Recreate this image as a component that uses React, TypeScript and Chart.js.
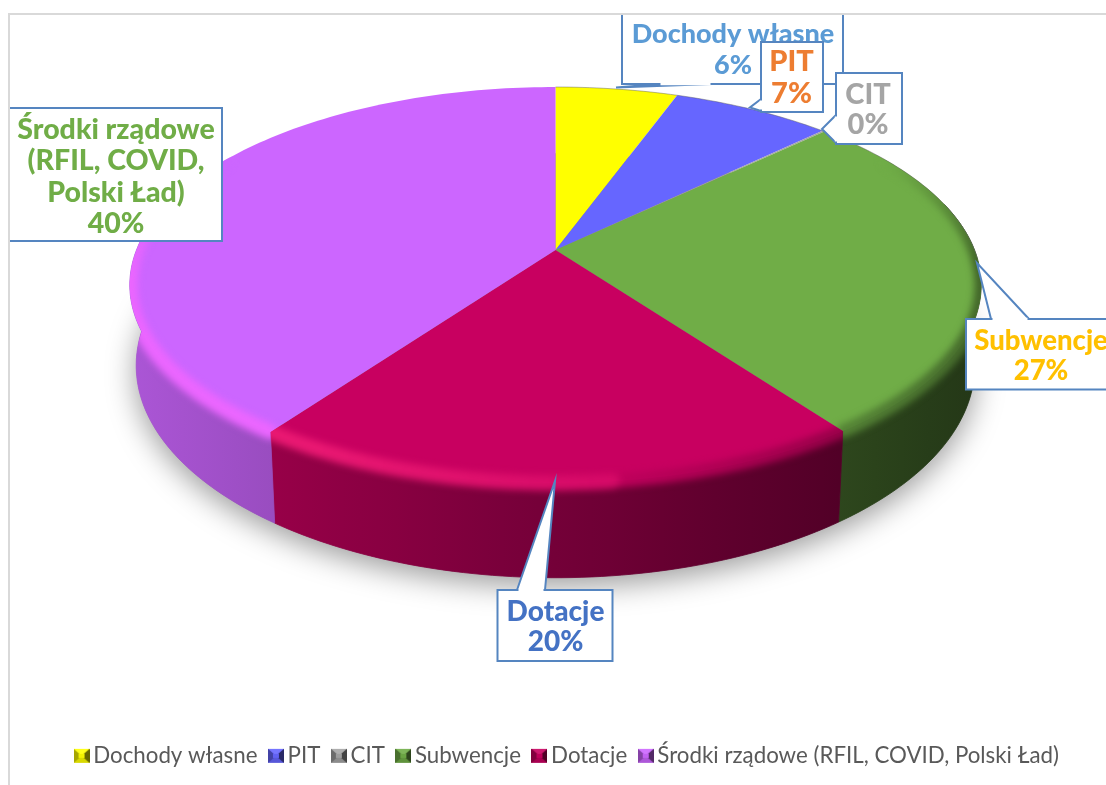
import React, { useEffect, useRef } from "react";
import { Chart, registerables } from "chart.js";

Chart.register(...registerables);

const categories = ["Dochody własne", "PIT", "CIT", "Subwencje", "Dotacje", "Środki rządowe (RFIL, COVID, Polski Ład)"];
const shares = [5.5, 7.2, 0.1, 27.2, 19.9, 40.1];
const sliceColors = ["#ffff00", "#6666ff", "#a5a5a5", "#70ad47", "#c80060", "#cc66ff"];
const labelLines = [["Dochody własne"], ["PIT"], ["CIT"], ["Subwencje"], ["Dotacje"], ["Środki rządowe", "(RFIL, COVID,", "Polski Ład)"]];
const labelColors = ["#5b9bd5", "#ed7d31", "#a5a5a5", "#ffc000", "#4472c4", "#70ad47"];

const FONT = "Lato, 'Open Sans', sans-serif";
const BORDER = "#5585c0";

// Perspective of the disc: the unit circle is projected to the screen.
const CX = 555.5, CY = 250, RX = 419, RY = 191.8, K = -0.1768, BASE_SCALE = 0.985, DEPTH = 78;

type Pt = [number, number];
const top = (t: number, r = 1): Pt => {
  const ux = r * Math.cos(t), uy = r * Math.sin(t), w = 1 + K * uy;
  return [CX + (RX * ux) / w, CY + (RY * uy) / w];
};
const base = (t: number): Pt => {
  const p = top(t), w = 1 + K * Math.sin(t);
  return [CX + (p[0] - CX) * BASE_SCALE, p[1] + DEPTH / w];
};
const hexRgb = (h: string) => [1, 3, 5].map((i) => parseInt(h.slice(i, i + 2), 16));
const mix = (c: number[], o: number[], f: number) =>
  `rgb(${c.map((v, i) => Math.round(v + (o[i] - v) * f)).join(",")})`;

type Callout = { i: number; size: number; box: [number, number, number, number]; tip?: Pt; from?: Pt; to?: Pt; cx: number; ys: number[] };
const callouts: Callout[] = [
  { i: 5, size: 28.5, box: [9, 108, 222, 241], cx: 116, ys: [130, 161, 193, 224] },
  { i: 3, size: 27.5, box: [966, 319, 1120, 389.5], tip: [977, 263], from: [991, 319], to: [1029, 319], cx: 1041, ys: [341, 371] },
  { i: 4, size: 28, box: [497.5, 590, 612.5, 661], tip: [555, 481], from: [517, 590], to: [545, 590], cx: 555.5, ys: [612, 642] },
  { i: 0, size: 27, box: [622, 10, 843, 84], tip: [616, 87.5], from: [659, 84], to: [712, 84], cx: 733, ys: [34, 65] },
  { i: 1, size: 29, box: [761, 42, 823, 112], tip: [750, 107.5], from: [761, 111], to: [761, 99], cx: 791.5, ys: [62, 94] },
  { i: 2, size: 29, box: [836, 73, 902, 144], tip: [822, 129], from: [836, 143], to: [836, 115], cx: 868, ys: [95, 125] },
];

function legendSwatch(color: string) {
  const s = document.createElement("canvas");
  s.width = 16; s.height = 16;
  const c = s.getContext("2d")!;
  const rgb = hexRgb(color);
  const n = 16;
  const tri = (pts: number[], fill: string) => {
    c.fillStyle = fill;
    c.beginPath();
    c.moveTo(pts[0], pts[1]); c.lineTo(pts[2], pts[3]); c.lineTo(pts[4], pts[5]);
    c.closePath(); c.fill();
  };
  c.fillStyle = mix(rgb, [0, 0, 0], 0.2);
  c.fillRect(0, 1, n, 14);
  tri([0, 1, n, 1, 8, 8], mix(rgb, [255, 255, 255], 0.1));
  tri([0, 15, n, 15, 8, 8], mix(rgb, [0, 0, 0], 0.15));
  tri([0, 1, 0, 15, 8, 8], mix(rgb, [0, 0, 0], 0.35));
  tri([n, 1, n, 15, 8, 8], mix(rgb, [0, 0, 0], 0.6));
  c.fillStyle = mix(rgb, [0, 0, 0], 0.05);
  c.fillRect(5, 6, 6, 4);
  return s;
}

const wallFactor = (x: number) => 0.58 - 0.26 * ((x - CX) / 426);

const disc3d = {
  id: "disc3d",
  beforeDatasetDraw(chart: any) {
    const ctx: CanvasRenderingContext2D = chart.ctx;
    const arcs = chart.getDatasetMeta(0).data as any[];
    const stepsOf = (arc: any, d: number) => Math.max(2, Math.ceil((arc.endAngle - arc.startAngle) / d));
    const wallAngles = (arc: any) => {
      const n = stepsOf(arc, 0.02);
      const list: number[] = [];
      for (let j = 0; j <= n; j++) {
        const a = arc.startAngle + ((arc.endAngle - arc.startAngle) * j) / n;
        if (Math.sin(a) >= -0.25) list.push(a);
      }
      return list;
    };
    const addWall = (angles: number[]) => {
      angles.forEach((a, j) => {
        const p = top(a);
        j ? ctx.lineTo(p[0], p[1]) : ctx.moveTo(p[0], p[1]);
      });
      [...angles].reverse().forEach((a) => {
        const p = base(a);
        ctx.lineTo(p[0], p[1]);
      });
      ctx.closePath();
    };
    const addFace = (arc: any) => {
      const n = stepsOf(arc, 0.02);
      ctx.moveTo(CX, CY);
      for (let j = 0; j <= n; j++) {
        const p = top(arc.startAngle + ((arc.endAngle - arc.startAngle) * j) / n);
        ctx.lineTo(p[0], p[1]);
      }
      ctx.closePath();
    };

    ctx.save();
    // soft shadow under the disc
    ctx.save();
    ctx.shadowColor = "rgba(0,0,0,0.4)";
    ctx.shadowBlur = 30;
    ctx.shadowOffsetY = 8;
    ctx.fillStyle = "#888";
    ctx.beginPath();
    for (let j = 0; j <= 240; j++) {
      const p = base((j / 240) * Math.PI * 2);
      j ? ctx.lineTo(p[0], p[1]) : ctx.moveTo(p[0], p[1]);
    }
    ctx.closePath();
    ctx.fill();
    ctx.restore();

    // side wall
    arcs.forEach((arc, i) => {
      const rgb = hexRgb(sliceColors[i]);
      const angles = wallAngles(arc);
      if (angles.length < 2) return;
      const grad = ctx.createLinearGradient(CX - 426, 0, CX + 426, 0);
      for (let s = 0; s <= 16; s++) {
        const x = CX - 426 + (852 * s) / 16;
        grad.addColorStop(s / 16, mix(rgb, [0, 0, 0], 1 - wallFactor(x)));
      }
      ctx.fillStyle = grad;
      ctx.strokeStyle = grad;
      ctx.lineWidth = 0.8;
      ctx.beginPath();
      addWall(angles);
      ctx.fill();
      ctx.stroke();
    });

    // top face
    arcs.forEach((arc, i) => {
      ctx.fillStyle = sliceColors[i];
      ctx.beginPath();
      addFace(arc);
      ctx.fill();
    });

    // bevel along the rim: sharp strokes offscreen, blurred when copied
    const off = document.createElement("canvas");
    off.width = chart.width; off.height = chart.height;
    const o = off.getContext("2d")!;
    arcs.forEach((arc, i) => {
      const rgb = hexRgb(sliceColors[i]);
      const glow = [255, rgb[1] * 0.6 + 40, Math.min(255, rgb[2] * 0.9 + 40)];
      const n = stepsOf(arc, 0.02);
      const at = (j: number) => arc.startAngle + ((arc.endAngle - arc.startAngle) * j) / n;
      o.clearRect(0, 0, off.width, off.height);
      o.lineCap = "round";
      for (let j = 0; j < n; j++) {
        const mid = (at(j) + at(j + 1)) / 2;
        const weight = Math.max(0, Math.min(1, (Math.sin(mid) + 0.5) / 0.6));
        if (weight <= 0) continue;
        const light = -Math.cos(mid);
        const lit = light > -0.12;
        o.lineWidth = lit ? 15 : 13;
        o.strokeStyle = lit
          ? mix(rgb, glow, 0.6 * weight * Math.min(1, light + 0.5))
          : mix(rgb, [0, 0, 0], 0.42 * weight * Math.min(1, -light));
        const p = top(at(j)), q = top(at(j + 1));
        o.beginPath();
        o.moveTo(p[0], p[1]);
        o.lineTo(q[0], q[1]);
        o.stroke();
      }
      ctx.save();
      ctx.beginPath();
      addFace(arc);
      const angles = wallAngles(arc);
      if (angles.length >= 2) addWall(angles);
      ctx.clip();
      ctx.filter = "blur(3.5px)";
      ctx.drawImage(off, 0, 0);
      ctx.restore();
      // faint outline on the back edge
      ctx.strokeStyle = "rgba(90,90,90,0.45)";
      ctx.lineWidth = 1;
      ctx.beginPath();
      for (let j = 0; j <= n; j++) {
        if (Math.sin(at(j)) > 0.05) break;
        const p = top(at(j));
        j ? ctx.lineTo(p[0], p[1]) : ctx.moveTo(p[0], p[1]);
      }
      ctx.stroke();
    });
    ctx.restore();
    return false;
  },
};

const calloutsPlugin = {
  id: "callouts",
  afterDraw(chart: any) {
    const ctx: CanvasRenderingContext2D = chart.ctx;
    const values = chart.data.datasets[0].data as number[];
    ctx.save();
    callouts.forEach((c) => {
      const [x0, y0, x1, y1] = c.box;
      ctx.fillStyle = "#ffffff";
      ctx.strokeStyle = BORDER;
      ctx.lineWidth = 2;
      ctx.beginPath();
      ctx.rect(x0, y0, x1 - x0, y1 - y0);
      ctx.fill();
      if (c.tip) {
        ctx.beginPath();
        ctx.moveTo(c.from![0], c.from![1]);
        ctx.lineTo(c.tip[0], c.tip[1]);
        ctx.lineTo(c.to![0], c.to![1]);
        ctx.closePath();
        ctx.fill();
      }
      ctx.beginPath();
      ctx.rect(x0, y0, x1 - x0, y1 - y0);
      ctx.stroke();
      if (c.tip) {
        ctx.beginPath();
        ctx.moveTo(c.from![0], c.from![1]);
        ctx.lineTo(c.tip[0], c.tip[1]);
        ctx.lineTo(c.to![0], c.to![1]);
        ctx.stroke();
        // erase the box edge beneath the pointer mouth
        ctx.save();
        ctx.strokeStyle = "#ffffff";
        ctx.lineWidth = 2.4;
        ctx.beginPath();
        const dx = Math.sign(c.to![0] - c.from![0]), dy = Math.sign(c.to![1] - c.from![1]);
        ctx.moveTo(c.from![0] + dx * 1.5, c.from![1] + dy * 1.5);
        ctx.lineTo(c.to![0] - dx * 1.5, c.to![1] - dy * 1.5);
        ctx.stroke();
        ctx.restore();
      }
      const lines = [...labelLines[c.i], `${Math.round(values[c.i])}%`];
      ctx.fillStyle = labelColors[c.i];
      ctx.font = `900 ${c.size}px ${FONT}`;
      ctx.textAlign = "center";
      ctx.textBaseline = "middle";
      lines.forEach((t, k) => ctx.fillText(t, c.cx, c.ys[k]));
    });
    // chart frame
    ctx.strokeStyle = "#d9d9d9";
    ctx.lineWidth = 2;
    ctx.clearRect(0, 0, 1106, 14);
    ctx.beginPath();
    ctx.moveTo(9, 785);
    ctx.lineTo(9, 14);
    ctx.lineTo(1106, 14);
    ctx.stroke();
    ctx.restore();
  },
};

export default function App() {
  const ref = useRef<HTMLCanvasElement>(null);
  useEffect(() => {
    const swatches = sliceColors.map(legendSwatch);
    const chart = new Chart(ref.current!, {
      type: "pie",
      data: {
        labels: categories,
        datasets: [{ data: shares, backgroundColor: sliceColors, borderWidth: 0 }],
      },
      options: {
        responsive: false,
        animation: false,
        layout: { padding: { bottom: 8, left: 34 } },
        plugins: {
          tooltip: { enabled: false },
          legend: {
            position: "bottom",
            labels: {
              usePointStyle: true,
              boxWidth: 1,
              boxHeight: 20,
              padding: 18,
              color: "#595959",
              font: { family: FONT, size: 22.3 },
              generateLabels: () =>
                categories.map((text, i) => ({
                  text,
                  fillStyle: sliceColors[i],
                  strokeStyle: sliceColors[i],
                  fontColor: "#595959",
                  lineWidth: 0,
                  pointStyle: swatches[i],
                  hidden: false,
                  index: i,
                })),
            },
          },
        },
      },
      plugins: [disc3d, calloutsPlugin],
    } as any);
    return () => chart.destroy();
  }, []);
  return (
    <div style={{ position: "fixed", left: 0, top: 0, width: 1106, height: 785, background: "#fff" }}>
      <canvas ref={ref} width={1106} height={785} style={{ display: "block" }} />
    </div>
  );
}
